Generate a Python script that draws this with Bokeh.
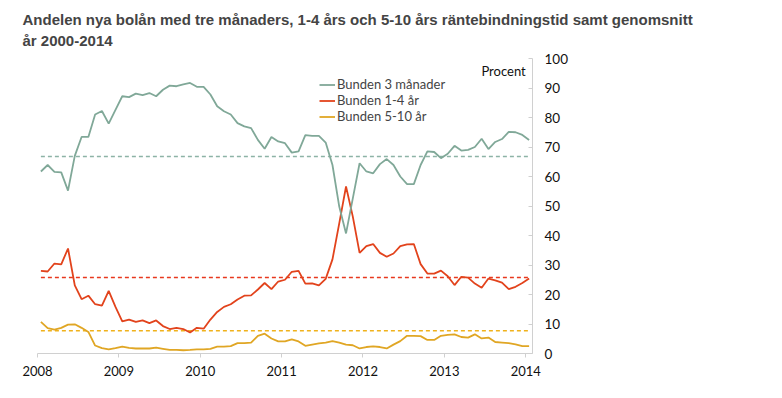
from bokeh.plotting import figure
from bokeh.models import Range1d, LinearAxis, FixedTicker, Title, Label, Legend, LegendItem, ColumnDataSource
from bokeh.embed import file_html
from bokeh.resources import INLINE

# Monthly data Jan 2008 .. Jan 2014 (73 months)
start_year = 2008
bunden_3m = [61.7, 63.9, 61.6, 61.4, 55.2, 67.0, 73.4, 73.4, 81.0, 82.2, 77.9, 82.6,
             87.2, 86.9, 88.1, 87.6, 88.3, 87.2, 89.4, 90.8, 90.6, 91.2, 91.7, 90.4,
             90.4, 87.8, 83.8, 82.1, 81.0, 78.1, 77.0, 76.4, 72.4, 69.4, 73.4, 71.9,
             71.3, 68.1, 68.5, 74.0, 73.8, 73.8, 71.5, 63.9, 49.8, 40.7, 52.6, 64.5,
             61.7, 61.1, 64.2, 65.9, 63.9, 60.0, 57.4, 57.4, 63.9, 68.5, 68.3, 66.2,
             67.7, 70.4, 68.8, 69.0, 70.0, 72.8, 69.3, 71.7, 72.7, 75.1, 75.0, 74.1,
             72.4]
bunden_1_4 = [28.0, 27.8, 30.5, 30.2, 35.6, 23.1, 18.4, 19.6, 16.7, 16.2, 21.2, 15.8,
              10.9, 11.5, 10.7, 11.2, 10.3, 11.2, 9.3, 8.3, 8.7, 8.3, 7.1, 8.7,
              8.4, 11.5, 14.1, 15.8, 16.7, 18.3, 19.6, 19.7, 21.7, 23.9, 21.8, 24.4,
              25.0, 27.7, 28.0, 23.7, 23.8, 23.1, 25.3, 31.9, 44.1, 56.6, 46.4, 34.1,
              36.4, 37.1, 34.1, 32.8, 33.9, 36.4, 37.0, 37.1, 30.3, 27.1, 27.1, 28.1,
              26.2, 23.2, 26.0, 25.7, 23.7, 22.3, 25.4, 24.8, 24.0, 21.8, 22.6, 23.9,
              25.4]
bunden_5_10 = [10.7, 8.6, 8.1, 8.7, 9.8, 9.9, 8.7, 7.3, 2.7, 1.8, 1.4, 1.8,
               2.3, 1.9, 1.7, 1.7, 1.7, 2.0, 1.6, 1.2, 1.2, 1.1, 1.2, 1.4,
               1.4, 1.6, 2.3, 2.3, 2.5, 3.5, 3.5, 3.7, 6.0, 6.7, 5.1, 4.1,
               4.1, 4.8, 4.1, 2.6, 3.0, 3.4, 3.7, 4.2, 3.7, 3.0, 2.8, 1.7,
               2.2, 2.4, 2.2, 1.7, 3.0, 4.2, 6.0, 6.0, 5.9, 4.6, 4.6, 6.0,
               6.3, 6.5, 5.6, 5.4, 6.5, 5.1, 5.4, 3.9, 3.7, 3.5, 3.1, 2.5,
               2.5]
avg_3m = 66.8
avg_1_4 = 25.8
avg_5_10 = 7.7

series_names = ["Bunden 3 månader", "Bunden 1-4 år", "Bunden 5-10 år"]
year_ticks = [2008, 2009, 2010, 2011, 2012, 2013, 2014]
y_ticks = [0, 10, 20, 30, 40, 50, 60, 70, 80, 90, 100]

n = len(bunden_3m)
x = [start_year + (i + 0.5) / 12 for i in range(n)]
src = ColumnDataSource(dict(x=x, a=bunden_3m, b=bunden_1_4, c=bunden_5_10,
                            avg_a=[avg_3m] * n, avg_b=[avg_1_4] * n, avg_c=[avg_5_10] * n))

c_gray, c_red, c_yel = "#80A898", "#E2431C", "#E0A624"
c_gray_d, c_red_d, c_yel_d = "#8DB3A6", "#E8381E", "#F0B21C"

p = figure(width=782, height=398, output_backend="svg", toolbar_location=None,
           x_range=Range1d(start_year, start_year + n / 12), y_range=Range1d(0, 100),
           min_border_left=37, min_border_right=250, min_border_top=58, min_border_bottom=45,
           y_axis_location=None)
p.outline_line_color = None
p.grid.grid_line_color = None
p.background_fill_color = "white"
p.border_fill_color = "white"

FONT = "Lato"

# x axis
xa = p.xaxis[0]
xa.ticker = FixedTicker(ticks=year_ticks)
xa.minor_tick_line_color = None
xa.axis_line_color = "#D0D0D0"
xa.major_tick_line_color = "#D0D0D0"
xa.major_tick_in = 0
xa.major_tick_out = 4
xa.major_label_text_font = FONT
xa.major_label_text_font_size = "13px"
xa.major_label_text_color = "#111111"
xa.major_label_standoff = 8

ya = LinearAxis(ticker=FixedTicker(ticks=y_ticks))
ya.minor_tick_line_color = None
ya.axis_line_color = "#D0D0D0"
ya.major_tick_line_color = "#D0D0D0"
ya.major_tick_in = 4
ya.major_tick_out = 0
ya.major_label_text_font = FONT
ya.major_label_text_font_size = "13.5px"
ya.major_label_text_color = "#111111"
ya.major_label_standoff = 12
p.add_layout(ya, "right")

# averages (dashed)
p.line("x", "avg_a", source=src, line_color=c_gray_d, line_width=1.5, line_dash="4 3")
p.line("x", "avg_b", source=src, line_color=c_red_d, line_width=1.5, line_dash="4 3")
p.line("x", "avg_c", source=src, line_color=c_yel_d, line_width=1.5, line_dash="4 3")

r_c = p.line("x", "c", source=src, line_color=c_yel, line_width=1.8)
r_b = p.line("x", "b", source=src, line_color=c_red, line_width=1.8)
r_a = p.line("x", "a", source=src, line_color=c_gray, line_width=1.8)

legend = Legend(items=[LegendItem(label=series_names[0], renderers=[r_a]),
                       LegendItem(label=series_names[1], renderers=[r_b]),
                       LegendItem(label=series_names[2], renderers=[r_c])],
                location=(282, 229), padding=0, margin=0, spacing=0,
                glyph_width=16, glyph_height=15, label_height=15, label_standoff=2,
                label_text_font=FONT, label_text_font_size="13px",
                border_line_color=None, background_fill_alpha=0)
p.add_layout(legend, "center")

p.add_layout(Label(x=2014.0, y=95.6, text="Procent", text_align="right",
                   text_baseline="middle", text_font=FONT, text_font_size="13px",
                   text_color="#111111"))

spacer = Title(text=" ", align="left", text_font_size="6px", standoff=0)
t2 = Title(text="år 2000-2014", align="left", text_font="Liberation Sans",
           text_font_size="15px", text_font_style="bold", offset=-15, standoff=4)
t1 = Title(text="Andelen nya bolån med tre månaders, 1-4 års och 5-10 års räntebindningstid samt genomsnitt",
           align="left", text_font="Liberation Sans", text_font_size="15px",
           text_font_style="bold", offset=-15, standoff=0)
p.add_layout(spacer, "above")
p.add_layout(t2, "above")
p.add_layout(t1, "above")

open("out.html", "w").write(file_html(p, INLINE))
